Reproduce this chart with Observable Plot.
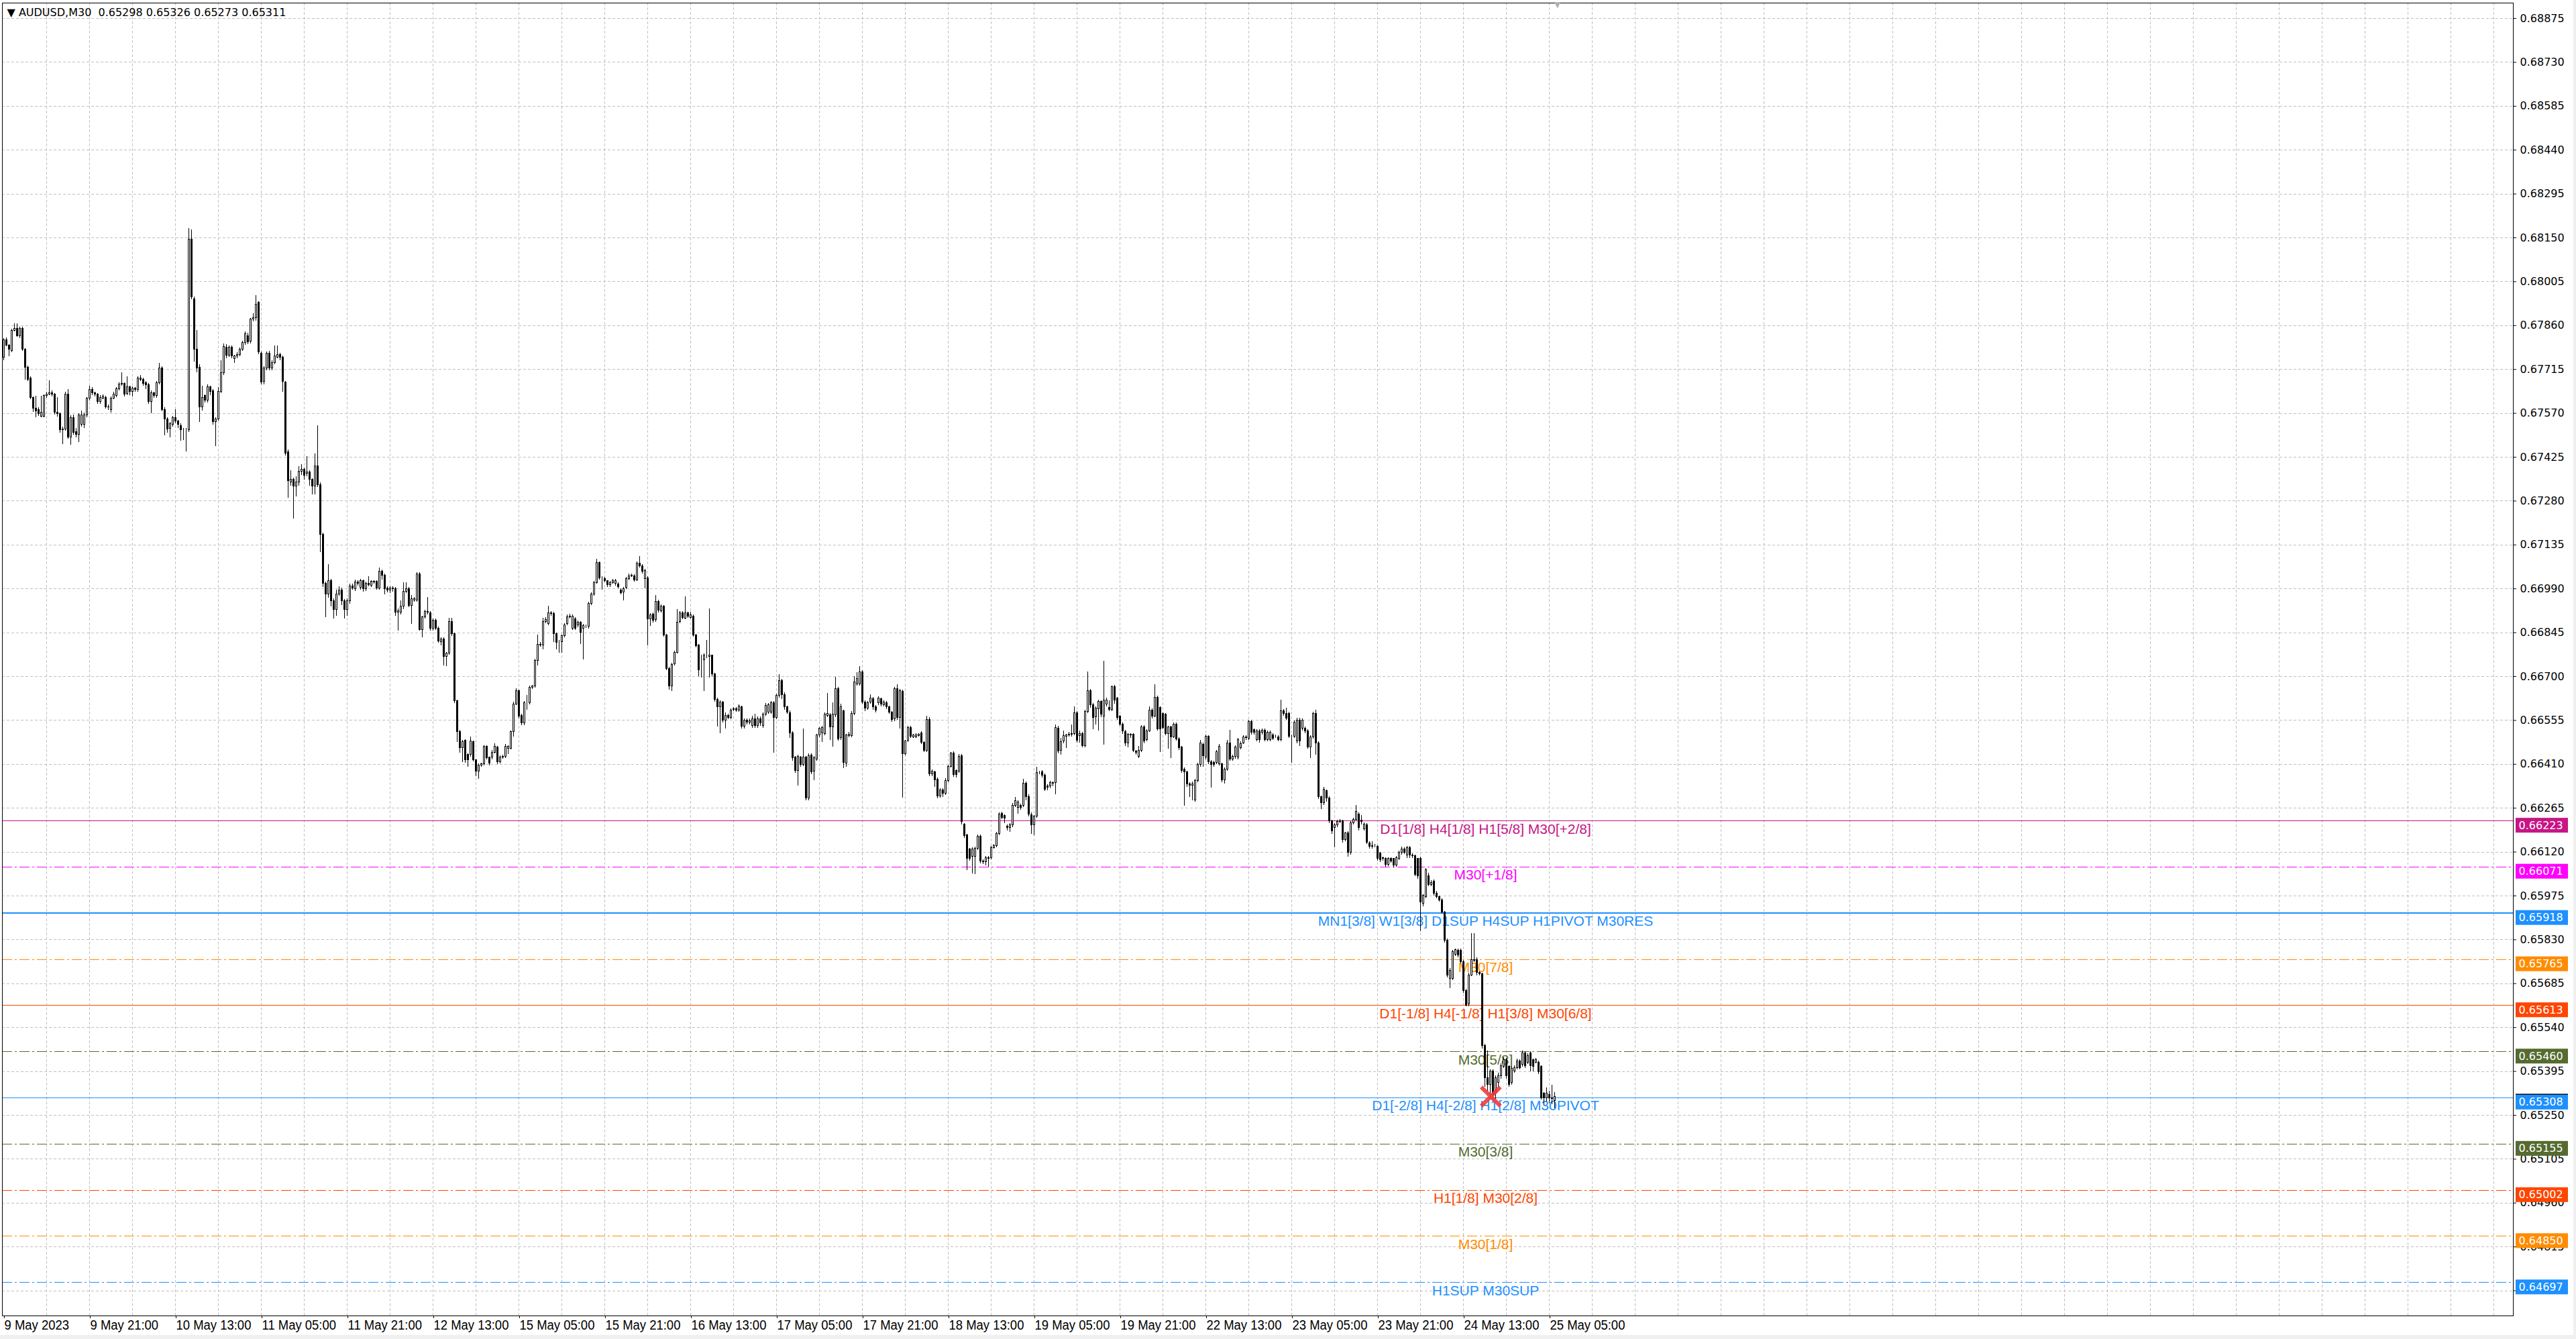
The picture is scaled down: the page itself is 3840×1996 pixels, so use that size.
<!DOCTYPE html>
<html>
<head>
<meta charset="utf-8">
<script src="https://cdn.jsdelivr.net/npm/d3@7"></script>
<script src="https://cdn.jsdelivr.net/npm/@observablehq/plot@0.6"></script>
<style>
html,body{margin:0;padding:0;background:#f0f0f0;}
#chart{position:absolute;left:0;top:0;line-height:0;}
</style>
</head>
<body>
<div id="chart"></div>
<script>
const symbolName = "AUDUSD,M30";

// M30 candles, prices in 1e-5 units (points)
const opens = [
67754,67812,67794,67776,67844,67849,67826,67849,67781,67722,
67686,67622,67586,67582,67560,67560,67627,67632,67636,67632,
67573,67568,67514,67518,67632,67491,67555,67509,67500,67532,
67532,67564,67618,67648,67636,67632,67609,67620,67622,67591,
67582,67620,67627,67650,67666,67668,67634,67656,67641,67652,
67648,67686,67681,67670,67663,67609,67636,67627,67670,67718,
67582,67550,67520,67532,67555,67544,67529,67514,67514,67514,
68144,67948,67781,67722,67591,67627,67613,67656,67643,67541,
67550,67641,67704,67787,67761,67787,67750,67758,67763,67781,
67802,67826,67808,67880,67885,67935,67767,67674,67718,67767,
67719,67736,67755,67763,67755,67672,67442,67342,67351,67328,
67342,67378,67383,67370,67374,67351,67328,67394,67333,67170,
67007,66971,67016,66950,66921,66971,66985,66949,66921,66949,
66998,66989,67012,66994,67016,66989,67007,67001,67013,67013,
66992,67048,67034,66992,66985,66992,66989,66912,66912,66932,
66980,66990,66934,66951,66951,67039,66855,66896,66914,66910,
66859,66884,66859,66814,66823,66766,66776,66881,66840,66619,
66518,66464,66488,66442,66442,66484,66423,66387,66407,66410,
66468,66432,66432,66449,66466,66418,66432,66435,66462,66462,
66516,66609,66652,66571,66545,66612,66612,66663,66667,66753,
66803,66803,66881,66873,66910,66907,66840,66814,66814,66833,
66873,66897,66859,66890,66870,66879,66859,66866,66865,66941,
66971,67010,67076,67025,67022,67015,67002,67010,67006,67005,
66985,66978,66993,67022,67032,67032,67019,67074,67065,67022,
67025,66890,66904,66887,66947,66916,66932,66837,66726,66667,
66741,66779,66881,66909,66892,66909,66894,66899,66837,66803,
66727,66755,66769,66766,66769,66707,66624,66599,66614,66555,
66571,66564,66590,66592,66587,66599,66534,66555,66547,66538,
66560,66538,66560,66538,66575,66582,66582,66612,66564,66636,
66685,66638,66598,66580,66513,66432,66389,66432,66408,66432,
66297,66439,66386,66426,66505,66513,66511,66570,66572,66532,
66572,66659,66496,66585,66412,66504,66504,66578,66675,66675,
66714,66615,66594,66615,66626,66600,66613,66626,66606,66613,
66598,66581,66559,66658,66563,66650,66443,66488,66530,66500,
66500,66504,66513,66482,66456,66557,66377,66384,66360,66304,
66325,66313,66356,66402,66445,66389,66387,66437,66210,66175,
66129,66105,66105,66131,66171,66090,66086,66097,66101,66134,
66140,66180,66247,66239,66205,66201,66208,66273,66266,66273,
66273,66347,66301,66242,66208,66238,66383,66383,66372,66338,
66338,66349,66349,66528,66454,66485,66502,66505,66509,66510,
66579,66504,66511,66471,66583,66652,66606,66565,66593,66616,
66567,66607,66596,66591,66665,66628,66567,66541,66517,66480,
66508,66508,66452,66436,66456,66532,66491,66520,66589,66569,
66631,66596,66576,66574,66511,66532,66500,66541,66493,66466,
66393,66384,66345,66340,66292,66355,66408,66475,66432,66501,
66418,66415,66415,66411,66411,66357,66393,66480,66427,66434,
66432,66463,66480,66499,66495,66550,66523,66490,66519,66514,
66521,66490,66490,66507,66501,66499,66490,66586,66578,66578,
66501,66501,66485,66555,66528,66528,66519,66466,66499,66578,
66480,66302,66283,66321,66297,66222,66200,66208,66219,66222,
66160,66182,66119,66216,66226,66244,66224,66196,66209,66148,
66141,66140,66137,66115,66100,66097,66078,66097,66097,66076,
66097,66117,66130,66108,66134,66110,66106,66097,66097,65949,
65971,66041,66012,66023,65982,65971,65960,65921,65827,65702,
65702,65781,65794,65794,65757,65661,65617,65713,65761,65764,
65720,65716,65480,65373,65351,65395,65321,65358,65380,65410,
65432,65410,65358,65395,65406,65428,65417,65454,65425,65454,
65432,65425,65425,65410,65321,65307,65318,65307,65298
];
const highs = [
67818,67820,67798,67848,67867,67867,67856,67856,67785,67726,
67690,67625,67627,67590,67627,67632,67640,67677,67645,67636,
67622,67572,67525,67640,67648,67562,67565,67520,67570,67578,
67572,67622,67659,67655,67641,67636,67628,67632,67627,67598,
67625,67640,67655,67672,67704,67672,67690,67660,67658,67656,
67692,67695,67686,67676,67668,67645,67640,67675,67736,67724,
67590,67555,67540,67560,67582,67548,67535,67520,67520,68181,
68177,67955,67844,67730,67659,67632,67665,67660,67648,67556,
67655,67745,67799,67797,67792,67792,67762,67770,67787,67808,
67840,67835,67885,67900,67959,67940,67772,67725,67772,67775,
67745,67794,67794,67768,67760,67676,67450,67380,67356,67360,
67395,67400,67390,67428,67380,67355,67437,67529,67340,67175,
67012,67070,67022,66958,66985,66998,66992,66955,66958,67005,
67005,67020,67018,67022,67020,67012,67030,67018,67018,67018,
67060,67052,67040,66998,66998,66996,66994,66925,66950,67010,
67010,66995,66969,66962,67044,67044,66900,66920,66962,66915,
66890,66890,66863,66828,66828,66780,66892,66892,66845,66622,
66522,66490,66492,66446,66501,66488,66426,66412,66415,66472,
66472,66435,66455,66479,66470,66438,66440,66475,66472,66520,
66615,66660,66656,66575,66618,66637,66668,66672,66758,66837,
66812,66892,66895,66932,66915,66912,66845,66820,66838,66875,
66905,66906,66905,66895,66885,66882,66872,66870,66946,66976,
67015,67087,67080,67030,67028,67018,67015,67022,67022,67010,
66990,66994,67028,67040,67040,67036,67080,67096,67070,67055,
67030,66908,66910,66969,66952,66938,66936,66840,66730,66745,
66785,66921,66915,66915,66963,66912,66912,66905,66840,66806,
66770,66775,66820,66925,66772,66710,66628,66620,66618,66580,
66576,66594,66598,66597,66607,66603,66560,66560,66560,66570,
66575,66568,66566,66580,66612,66612,66618,66618,66642,66707,
66690,66646,66603,66586,66518,66436,66440,66436,66526,66436,
66445,66445,66436,66510,66532,66536,66580,66644,66578,66613,
66697,66665,66610,66590,66510,66515,66585,66700,66714,66733,
66720,66620,66618,66641,66632,66604,66634,66630,66620,66618,
66602,66585,66664,66674,66658,66655,66490,66535,66535,66510,
66512,66512,66518,66486,66569,66565,66392,66388,66365,66330,
66330,66362,66408,66450,66452,66392,66442,66442,66215,66178,
66132,66134,66136,66176,66176,66094,66106,66105,66140,66146,
66186,66250,66252,66244,66210,66214,66280,66300,66290,66278,
66360,66352,66310,66250,66242,66400,66388,66390,66378,66342,
66354,66352,66540,66535,66495,66520,66510,66515,66540,66600,
66585,66520,66515,66590,66715,66658,66612,66600,66622,66620,
66751,66630,66620,66670,66672,66632,66572,66546,66522,66512,
66512,66512,66456,66470,66538,66538,66525,66600,66594,66674,
66636,66600,66580,66578,66536,66536,66546,66546,66498,66470,
66398,66388,66350,66352,66360,66415,66490,66480,66507,66505,
66422,66420,66456,66475,66415,66398,66490,66523,66440,66472,
66495,66484,66505,66505,66556,66556,66528,66524,66524,66526,
66526,66520,66520,66512,66506,66504,66622,66592,66596,66582,
66506,66553,66562,66562,66560,66534,66524,66504,66582,66590,
66485,66306,66335,66325,66302,66226,66215,66225,66228,66226,
66186,66188,66222,66232,66274,66250,66240,66216,66214,66155,
66155,66145,66142,66120,66104,66102,66102,66102,66100,66105,
66124,66136,66134,66140,66140,66115,66110,66100,66103,65980,
66066,66050,66025,66028,65990,65976,65966,65925,65832,65735,
65796,65800,65800,65800,65762,65666,65720,65850,65850,65770,
65725,65720,65485,65462,65400,65400,65380,65390,65420,65440,
65438,65415,65410,65415,65436,65435,65462,65460,65455,65460,
65436,65438,65430,65414,65326,65340,65330,65350,65326
];
const lows = [
67745,67790,67758,67770,67840,67822,67818,67776,67681,67676,
67615,67573,67555,67560,67555,67555,67620,67628,67625,67565,
67559,67505,67466,67512,67485,67464,67498,67490,67473,67525,
67520,67555,67612,67628,67625,67600,67600,67615,67585,67580,
67572,67615,67622,67645,67660,67625,67628,67630,67625,67640,
67640,67675,67660,67650,67600,67568,67620,67620,67665,67575,
67496,67505,67490,67525,67535,67520,67478,67480,67442,67508,
67945,67740,67704,67541,67578,67605,67605,67630,67532,67460,
67545,67636,67695,67752,67755,67752,67736,67752,67758,67776,
67795,67798,67800,67872,67875,67765,67665,67665,67710,67710,
67712,67730,67750,67745,67640,67430,67290,67330,67220,67295,
67330,67365,67350,67360,67330,67300,67300,67325,67110,66995,
66894,66960,66930,66890,66900,66965,66935,66890,66900,66940,
66985,66982,67000,66985,66980,66982,66996,66995,67005,66985,
66985,67020,66970,66978,66975,66980,66900,66851,66905,66921,
66975,66928,66873,66945,66945,66850,66828,66890,66905,66850,
66850,66852,66810,66801,66735,66734,66770,66834,66612,66483,
66447,66416,66415,66401,66435,66418,66370,66361,66400,66405,
66425,66405,66425,66445,66410,66412,66428,66430,66442,66458,
66501,66604,66560,66538,66538,66589,66606,66658,66662,66735,
66798,66789,66875,66868,66900,66814,66789,66778,66778,66828,
66868,66890,66852,66852,66862,66806,66755,66860,66858,66935,
66965,67005,67020,66985,67010,66995,66995,67005,67000,66990,
66970,66951,66988,67018,67028,67012,67015,67060,67040,66990,
66801,66866,66878,66880,66910,66910,66830,66720,66656,66652,
66735,66775,66875,66888,66888,66892,66890,66830,66795,66700,
66696,66652,66760,66696,66700,66615,66534,66512,66548,66527,
66558,66558,66585,66582,66582,66528,66528,66540,66540,66530,
66530,66530,66535,66530,66570,66575,66575,66447,66558,66630,
66625,66590,66575,66495,66420,66380,66338,66400,66402,66290,
66290,66376,66356,66420,66498,66482,66505,66565,66490,66467,
66565,66488,66490,66397,66400,66498,66498,66572,66670,66670,
66608,66585,66588,66610,66590,66580,66605,66600,66600,66592,
66575,66550,66552,66556,66528,66298,66438,66482,66495,66495,
66495,66500,66475,66450,66450,66370,66370,66335,66296,66298,
66300,66308,66350,66398,66368,66365,66380,66210,66165,66059,
66090,66049,66047,66125,66082,66080,66075,66070,66095,66130,
66135,66175,66228,66215,66190,66185,66200,66268,66245,66258,
66268,66290,66236,66180,66175,66232,66376,66366,66320,66322,
66330,66336,66310,66445,66440,66478,66462,66500,66500,66504,
66480,66480,66465,66465,66578,66595,66525,66540,66520,66565,
66474,66600,66585,66585,66610,66555,66535,66510,66470,66465,
66495,66450,66440,66430,66450,66478,66486,66515,66560,66564,
66520,66450,66525,66505,66460,66430,66495,66488,66455,66380,
66273,66335,66300,66290,66285,66350,66400,66400,66425,66410,
66331,66400,66410,66405,66350,66345,66388,66420,66420,66428,
66426,66458,66475,66490,66490,66508,66508,66485,66480,66508,
66485,66485,66484,66490,66495,66485,66486,66570,66555,66495,
66413,66495,66478,66470,66520,66512,66460,66430,66494,66440,
66295,66260,66275,66285,66215,66180,66134,66200,66215,66150,
66155,66103,66110,66210,66220,66190,66210,66190,66145,66130,
66130,66134,66090,66085,66090,66070,66072,66084,66068,66070,
66092,66110,66112,66100,66100,66100,66040,66030,65857,65940,
65965,66005,66005,65975,65965,65954,65915,65820,65705,65668,
65696,65775,65770,65750,65654,65609,65610,65708,65756,65712,
65710,65470,65343,65330,65300,65295,65300,65340,65370,65405,
65370,65343,65350,65390,65400,65400,65410,65405,65418,65395,
65395,65420,65385,65300,65281,65295,65290,65285,65273
];
const closes = [
67812,67794,67781,67844,67849,67826,67849,67781,67722,67681,
67622,67586,67577,67568,67573,67627,67632,67636,67632,67573,
67568,67514,67518,67632,67491,67555,67505,67500,67564,67564,
67564,67618,67647,67636,67632,67609,67622,67625,67591,67590,
67620,67632,67650,67666,67668,67632,67656,67641,67652,67648,
67686,67681,67668,67663,67609,67636,67627,67670,67719,67582,
67550,67518,67534,67555,67544,67532,67514,67514,67514,68144,
67953,67781,67718,67591,67622,67613,67656,67641,67541,67550,
67641,67704,67790,67761,67787,67758,67758,67764,67781,67802,
67831,67806,67880,67885,67930,67772,67672,67718,67767,67718,
67736,67758,67763,67754,67674,67437,67347,67351,67328,67342,
67378,67385,67365,67374,67351,67328,67396,67333,67170,67007,
66971,67016,66949,66921,66971,66985,66949,66921,66949,66998,
66992,67012,67007,67016,66989,67007,67003,67013,67012,66992,
67048,67034,66989,66985,66992,66989,66912,66917,66932,66980,
66990,66934,66956,66956,67039,66855,66896,66914,66912,66859,
66884,66859,66816,66823,66766,66776,66881,66840,66619,66518,
66464,66484,66423,66423,66486,66423,66387,66407,66410,66468,
66431,66412,66449,66469,66418,66432,66435,66469,66468,66516,
66609,66652,66567,66545,66612,66612,66663,66667,66753,66806,
66806,66881,66888,66910,66907,66840,66811,66814,66833,66870,
66897,66899,66899,66859,66879,66845,66867,66866,66941,66971,
67010,67076,67025,67025,67015,67002,67010,67017,67017,66995,
66977,66990,67022,67032,67034,67019,67074,67065,67047,67049,
66890,66903,66884,66947,66918,66932,66837,66726,66667,66739,
66779,66879,66909,66894,66909,66899,66903,66837,66801,66722,
66727,66769,66769,66769,66707,66624,66599,66614,66555,66571,
66564,66589,66592,66589,66601,66534,66555,66547,66552,66560,
66538,66560,66545,66575,66604,66606,66612,66564,66636,66685,
66638,66598,66581,66513,66431,66389,66434,66408,66432,66297,
66437,66384,66430,66505,66528,66530,66574,66576,66532,66574,
66659,66493,66600,66415,66505,66508,66578,66681,66692,66714,
66615,66594,66613,66628,66598,66587,66628,66607,66615,66598,
66581,66557,66658,66563,66652,66443,66485,66530,66502,66505,
66505,66508,66482,66456,66557,66378,66387,66358,66304,66325,
66313,66356,66402,66445,66375,66375,66436,66219,66173,66097,
66097,66129,66131,66171,66089,66086,66101,66101,66134,66140,
66180,66245,66234,66231,66201,66208,66273,66288,66284,66266,
66347,66301,66244,66208,66238,66382,66383,66372,66327,66332,
66349,66347,66530,66452,66483,66504,66505,66509,66510,66579,
66488,66511,66471,66583,66652,66606,66564,66594,66616,66574,
66621,66621,66591,66665,66622,66564,66541,66519,66480,66508,
66505,66455,66448,66456,66532,66485,66520,66589,66569,66631,
66526,66526,66530,66511,66532,66500,66541,66493,66463,66389,
66384,66345,66340,66345,66355,66408,66480,66437,66501,66418,
66408,66408,66451,66469,66357,66393,66480,66427,66434,66466,
66490,66478,66499,66497,66550,66514,66514,66519,66490,66521,
66490,66514,66514,66495,66501,66490,66586,66576,66562,66501,
66501,66548,66555,66485,66555,66519,66466,66499,66576,66480,
66302,66283,66326,66297,66222,66189,66208,66219,66222,66160,
66182,66119,66216,66226,66253,66200,66219,66211,66152,66137,
66137,66140,66097,66093,66097,66078,66097,66089,66075,66100,
66119,66130,66119,66134,66108,66106,66045,66041,65953,65975,
66060,66012,66019,65982,65971,65960,65921,65827,65713,65728,
65790,65796,65779,65757,65661,65613,65713,65764,65764,65720,
65716,65480,65373,65351,65395,65318,65373,65380,65414,65432,
65380,65351,65403,65406,65428,65406,65454,65414,65447,65414,
65410,65432,65392,65307,65307,65321,65307,65305,65311
];

// time axis (bar index of each label)
const timeLabels = ["9 May 2023","9 May 21:00","10 May 13:00","11 May 05:00","11 May 21:00","12 May 13:00","15 May 05:00","15 May 21:00","16 May 13:00","17 May 05:00","17 May 21:00","18 May 13:00","19 May 05:00","19 May 21:00","22 May 13:00","23 May 05:00","23 May 21:00","24 May 13:00","25 May 05:00"];
const timeTickBars = [0,32,64,96,128,160,192,224,256,288,320,352,384,416,448,480,512,544,576];

// price axis ticks
const priceTicks = [0.68875,0.68730,0.68585,0.68440,0.68295,0.68150,0.68005,0.67860,0.67715,0.67570,0.67425,0.67280,0.67135,0.66990,0.66845,0.66700,0.66555,0.66410,0.66265,0.66120,0.65975,0.65830,0.65685,0.65540,0.65395,0.65250,0.65105,0.64960,0.64815,0.64670];

// Murrey-math style levels
const levelPrices = [0.66223,0.66071,0.65918,0.65765,0.65613,0.65460,0.65308,0.65155,0.65002,0.64850,0.64697];
const levelColors = ["#C71585","#FF00FF","#1E90FF","#FF8C00","#FF4500","#556B2F","#1E90FF","#556B2F","#FF4500","#FF8C00","#1E90FF"];
const levelStyles = ["solid","dashdot","solid","dashdot","solid","dashdot","solid","dashdot","dashdot","dashdot","dashdot"];
const levelWidths = [1,1,2,1,1,1,1.5,1,1,1,1];
const levelTexts = ["D1[1/8] H4[1/8] H1[5/8] M30[+2/8]","M30[+1/8]","MN1[3/8] W1[3/8] D1SUP H4SUP H1PIVOT M30RES","M30[7/8]","D1[-1/8] H4[-1/8] H1[3/8] M30[6/8]","M30[5/8]","D1[-2/8] H4[-2/8] H1[2/8] M30PIVOT","M30[3/8]","H1[1/8] M30[2/8]","M30[1/8]","H1SUP M30SUP"];
const levelLabelBar = 552.25;   // bar where the indicator anchors its texts

const currentBid = 0.65311;
const crossMark = {bar: 554.2, price: 0.65312};

// ---- build tables ----
const bars = closes.map((c, i) => {
  const o = opens[i] / 1e5, cc = c / 1e5, h = highs[i] / 1e5, l = lows[i] / 1e5;
  return {i, o, c: cc, h, l, hi: Math.max(h, o, cc), lo: Math.min(l, o, cc)};
});
const levels = levelPrices.map((p, k) => ({price: p, color: levelColors[k], style: levelStyles[k], width: levelWidths[k], label: levelTexts[k]}));
const labelByBar = new Map(timeTickBars.map((b, k) => [b, timeLabels[k]]));
const gridBars = d3.range(16, 936, 16);
const last = bars[bars.length - 1];
const header = `▼ ${symbolName}  ${last.o.toFixed(5)} ${last.h.toFixed(5)} ${last.l.toFixed(5)} ${last.c.toFixed(5)}`;

const boxOpts = {y1: "price", y2: "price", insetLeft: 3747, insetRight: -82, insetTop: -4, insetBottom: -18};
const boxText = {y: "price", text: d => d.price.toFixed(5), fill: "white", frameAnchor: "right", textAnchor: "start", dx: 8, dy: 7, fontSize: 16, fontFamily: "DejaVu Sans"};

const chart = Plot.plot({
  width: 3836,
  height: 1990,
  marginLeft: 3,
  marginRight: 90,
  marginTop: 4,
  marginBottom: 29,
  x: {domain: [-0.5, 935.25]},
  y: {domain: [0.64587, 0.68926]},
  color: {type: "identity"},
  style: {background: "white", fontFamily: "DejaVu Sans", color: "black"},
  marks: [
    Plot.gridX(gridBars, {stroke: "#c0c0c0", strokeOpacity: 1, strokeDasharray: "4,3", shapeRendering: "crispEdges"}),
    Plot.gridY(priceTicks, {stroke: "#c0c0c0", strokeOpacity: 1, strokeDasharray: "4,3", shapeRendering: "crispEdges"}),
    Plot.ruleY(levels.filter(d => d.style === "dashdot"), {y: "price", stroke: "color", strokeWidth: "width", strokeDasharray: "15,4,3,4", shapeRendering: "crispEdges"}),
    Plot.ruleY(levels.filter(d => d.style === "solid"), {y: "price", stroke: "color", strokeWidth: "width", shapeRendering: "crispEdges"}),
    Plot.text(levels, {x: levelLabelBar, y: "price", text: "label", fill: "color", fontSize: 21, fontFamily: "Liberation Sans", lineAnchor: "top", dy: 4}),
    Plot.ruleX(bars, {x: "i", y1: "lo", y2: "hi", stroke: "black", strokeWidth: 1, shapeRendering: "crispEdges"}),
    Plot.rect(bars, {x1: d => d.i - 0.25, x2: d => d.i + 0.25, y1: "o", y2: "c", fill: d => d.c >= d.o ? "white" : "black", stroke: "black", strokeWidth: 1, shapeRendering: "crispEdges"}),
    Plot.dot([crossMark], {x: "bar", y: "price", symbol: "times", r: 13, stroke: "#f03a3a", strokeWidth: 6, strokeOpacity: 0.9, strokeLinecap: "butt"}),
    Plot.axisX({ticks: timeTickBars, tickFormat: d => labelByBar.get(d), tickSize: 4, tickPadding: 2, textAnchor: "start", dx: 1, fontSize: 21, fontFamily: "Liberation Sans", label: null}),
    Plot.axisY({anchor: "right", ticks: priceTicks, tickFormat: d => d.toFixed(5), tickSize: 4, tickPadding: 6, fontSize: 16, fontFamily: "DejaVu Sans", label: null}),
    Plot.rect([{price: currentBid, color: "black"}], {...boxOpts, fill: "color"}),
    Plot.text([{price: currentBid}], boxText),
    Plot.rect(levels, {...boxOpts, fill: "color"}),
    Plot.text(levels, boxText),
    Plot.frame({stroke: "black", shapeRendering: "crispEdges"}),
    Plot.text([header], {text: d => d, frameAnchor: "top-left", dx: 7, dy: 14, lineAnchor: "middle", fontSize: 16, fontFamily: "DejaVu Sans", fill: "black"}),
    Plot.text([bars.length], {x: d => d, frameAnchor: "top", text: () => "▼", fill: "#b0b0b0", fontSize: 12, lineAnchor: "top", dy: -2})
  ]
});

// condense the time-axis labels horizontally (MetaTrader uses a narrow font)
d3.select(chart).selectAll('g[aria-label="x-axis tick label"] text').each(function () {
  const x = this.getAttribute("x"), y = this.getAttribute("y");
  let t = this.getAttribute("transform") || "";
  if (x !== null) {
    t = `translate(${x},${y || 0}) ` + t;
    this.removeAttribute("x");
    this.removeAttribute("y");
  }
  this.setAttribute("transform", t + " scale(0.88,1)");
});

document.getElementById("chart").appendChild(chart);
</script>
</body>
</html>
